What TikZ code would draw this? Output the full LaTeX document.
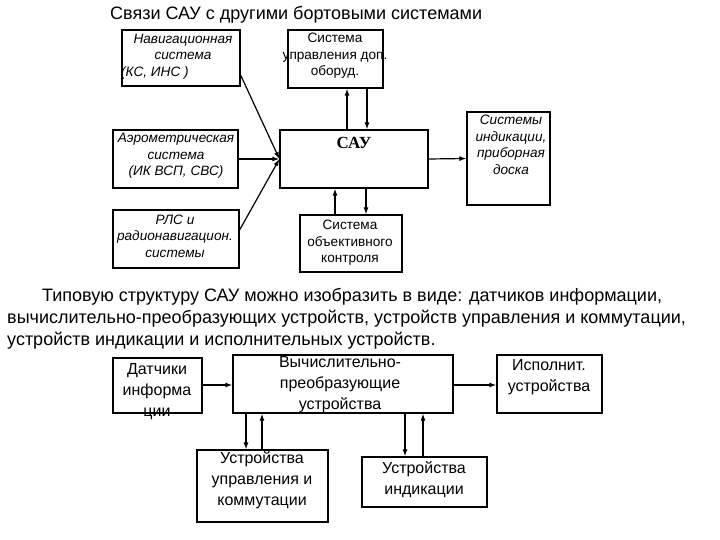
\documentclass[tikz,border=0pt]{standalone}
\usepackage{fontspec}
\setmainfont{Liberation Sans}
\newfontfamily\serifb{Liberation Serif}
\usetikzlibrary{arrows.meta}
\tikzset{
 bx/.style={draw, line width=1.2pt, inner sep=0pt},
 it/.style={font=\itshape\fontsize{13.6}{16.5}\selectfont, align=center, inner sep=0pt},
 st/.style={font=\fontsize{13.6}{16.5}\selectfont, align=center, inner sep=0pt},
 tx/.style={font=\fontsize{16}{21}\selectfont, align=center, inner sep=0pt},
 ar/.style={line width=1.2pt, -{Latex[length=7pt,width=5pt]}},
}
\begin{document}
\begin{tikzpicture}[x=1pt,y=-1pt]
\useasboundingbox (0,0) rectangle (720,540);
% top boxes
\node[bx, minimum width=118, minimum height=56] (nav) at (181,58) {};
\node[bx, minimum width=95, minimum height=58] (upr) at (335.5,59) {};
\node[bx, minimum width=125, minimum height=58] (aero) at (175.5,159) {};
\node[bx, minimum width=148, minimum height=58] (sau) at (354,159) {};
\node[bx, minimum width=83, minimum height=93] (ind) at (508.5,158.5) {};
\node[bx, minimum width=126, minimum height=58] (rls) at (176,239) {};
\node[bx, minimum width=102, minimum height=57] (obj) at (351,243.5) {};
\node[font=\fontsize{18}{20}\selectfont, anchor=west, inner sep=0pt] (title) at (110,15) {Связи САУ с другими бортовыми системами};
\node[it] (navt) at (183,47) {Навигационная\\система};
\node[it, anchor=west] (navt2) at (121,73) {(КС, ИНС )};
\node[st] (uprt) at (335,56) {Система\\управления доп.\\оборуд.};
\node[it] (aerot) at (176,156) {Аэрометрическая\\система\\(ИК ВСП, СВС)};
\node[font=\serifb\bfseries\fontsize{17}{19}\selectfont, inner sep=0pt] (saut) at (354,143) {САУ};
\node[it] (indt) at (511,145) {Системы\\индикации,\\приборная\\доска};
\node[it] (rlst) at (175,236) {РЛС и\\радионавигацион.\\системы};
\node[st] (objt) at (350,243) {Система\\объективного\\контроля};
% top connectors
\draw[ar] (nav.east |- 0,75) -- (sau.west);
\draw[ar] (aero.east) -- (sau.west);
\draw[ar] (rls.east |- 0,230) -- (sau.west);
\draw[ar] (sau.north -| 347,0) -- (upr.south -| 347,0);
\draw[ar] (upr.south -| 367,0) -- (sau.north -| 367,0);
\draw[ar] (obj.north -| 335,0) -- (sau.south -| 335,0);
\draw[ar] (sau.south -| 366,0) -- (obj.north -| 366,0);
\draw[ar] (sau.east) -- (ind.west);
% paragraph
\node[font=\fontsize{18}{22}\selectfont, align=left, anchor=north west, inner sep=0pt] (para) at (7,288)
 {\hspace*{35pt}Типовую структуру САУ можно изобразить в виде: датчиков информации,\\
 вычислительно-преобразующих устройств, устройств управления и коммутации,\\
 устройств индикации и исполнительных устройств.};
% bottom
\node[bx, minimum width=89, minimum height=55] (dat) at (157.5,385.5) {};
\node[bx, minimum width=220, minimum height=58] (vych) at (343,384) {};
\node[bx, minimum width=105, minimum height=58] (isp) at (549.5,384) {};
\node[bx, minimum width=131, minimum height=72] (ucom) at (262.5,486) {};
\node[bx, minimum width=125, minimum height=50] (uind) at (424.5,482) {};
\node[tx] (datt) at (157,392) {Датчики\\информа\\ции};
\node[tx] (vycht) at (340,385) {Вычислительно-\\преобразующие\\устройства};
\node[tx] (ispt) at (549,377) {Исполнит.\\устройства};
\node[tx] (ucomt) at (262,480) {Устройства\\управления и\\коммутации};
\node[tx] (uindt) at (424,480) {Устройства\\индикации};
\draw[ar] (dat.east |- 0,385) -- (vych.west |- 0,385);
\draw[ar] (vych.east |- 0,385) -- (isp.west |- 0,385);
\draw[ar] (vych.south -| 246,0) -- (ucom.north -| 246,0);
\draw[ar] (ucom.north -| 262,0) -- (vych.south -| 262,0);
\draw[ar] (vych.south -| 405,0) -- (uind.north -| 405,0);
\draw[ar] (uind.north -| 423,0) -- (vych.south -| 423,0);
\end{tikzpicture}
\end{document}
